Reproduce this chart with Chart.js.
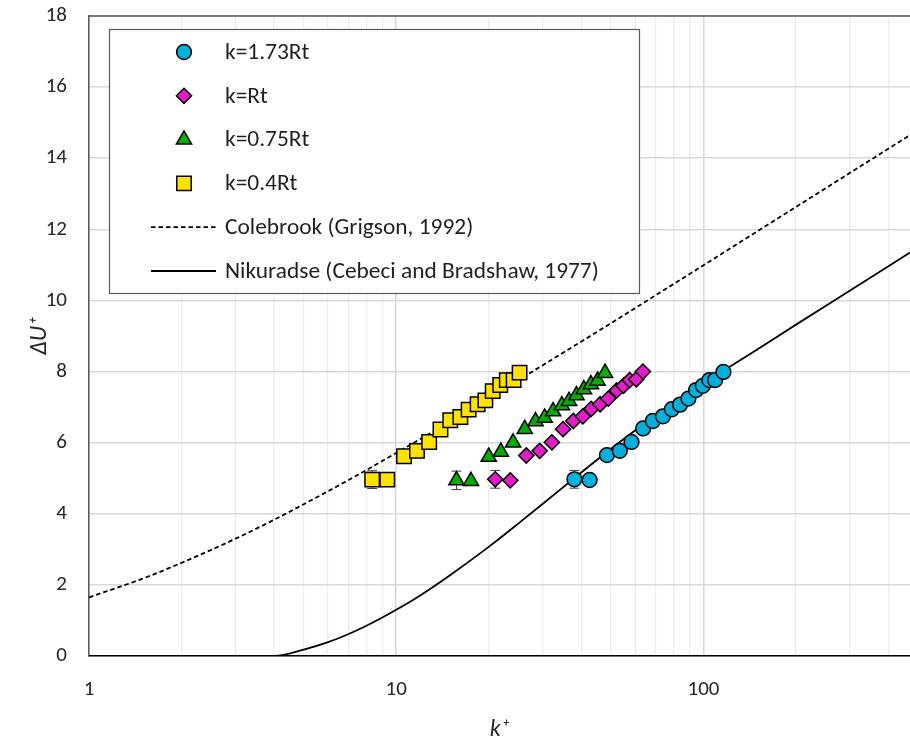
<!DOCTYPE html>
<html>
<head>
<meta charset="utf-8">
<script src="https://cdn.jsdelivr.net/npm/chart.js@4.4.1/dist/chart.umd.min.js"></script>
<style>
  html, body { margin: 0; padding: 0; background: #fff; overflow: hidden; }
</style>
</head>
<body>
<canvas id="chart" width="910" height="740"></canvas>
<script>
// === Data ===
const FONT = "Carlito, Lato, 'Open Sans', sans-serif";

// k = 1.73Rt
const k173x = [38.0, 42.6, 48.5, 53.4, 58.3, 63.6, 68.4, 73.8, 78.9, 83.9, 89.3, 94.6, 99.5, 104.5, 109.1, 116.1];
const k173y = [4.97, 4.95, 5.65, 5.77, 6.02, 6.40, 6.61, 6.74, 6.94, 7.07, 7.24, 7.48, 7.60, 7.76, 7.76, 7.99];
const k173err = [0.25];

// k = Rt
const k100x = [21.0, 23.5, 26.5, 29.3, 32.1, 34.9, 37.7, 40.5, 43.1, 46.1, 49.0, 52.2, 54.9, 57.5, 60.4, 63.5];
const k100y = [4.97, 4.94, 5.64, 5.77, 6.01, 6.38, 6.61, 6.74, 6.95, 7.08, 7.24, 7.47, 7.60, 7.76, 7.78, 8.00];
const k100err = [0.25];

// k = 0.75Rt
const k075x = [15.7, 17.5, 20.0, 21.9, 24.0, 26.2, 28.4, 30.4, 32.4, 34.6, 36.5, 38.6, 40.8, 43.0, 45.2, 47.8];
const k075y = [4.94, 4.92, 5.60, 5.74, 6.00, 6.38, 6.60, 6.70, 6.88, 7.05, 7.17, 7.33, 7.50, 7.64, 7.74, 7.96];
const k075err = [0.26];

// k = 0.4Rt
const k040x = [8.35, 9.35, 10.6, 11.68, 12.8, 13.93, 14.99, 16.17, 17.2, 18.4, 19.5, 20.6, 21.8, 22.9, 24.1, 25.2];
const k040y = [4.96, 4.96, 5.62, 5.77, 6.02, 6.37, 6.63, 6.72, 6.93, 7.08, 7.19, 7.45, 7.62, 7.76, 7.76, 7.97];
const k040err = [0.25];

// Colebrook (Grigson, 1992)
const colebrookK = [1, 1.5, 2, 3, 4, 5, 7, 10, 15, 20, 30, 50, 70, 100, 150, 200, 300, 470];
const colebrookDU = [1.65, 2.18, 2.62, 3.30, 3.83, 4.27, 4.95, 5.71, 6.60, 7.25, 8.18, 9.36, 10.15, 10.99, 11.95, 12.63, 13.59, 14.65];

// Nikuradse (Cebeci and Bradshaw, 1977)
const nikK = [1, 2, 3, 4, 5, 6, 7, 8, 10, 12, 15, 20, 25, 30, 40, 50, 60, 70, 90, 100, 150, 200, 300, 470];
const nikDU = [0, 0, 0, 0, 0.18, 0.39, 0.62, 0.85, 1.30, 1.71, 2.28, 3.07, 3.73, 4.28, 5.16, 5.83, 6.35, 6.78, 7.41, 7.67, 8.63, 9.32, 10.28, 11.35];

// axis ticks
const xLabelTicks = [1, 10, 100];
const xGridTicks = [1, 2, 3, 4, 5, 6, 7, 8, 9, 10, 20, 30, 40, 50, 60, 70, 80, 90, 100, 200, 300, 400];
const yTicks = [0, 2, 4, 6, 8, 10, 12, 14, 16, 18];

const pts = (xs, ys) => xs.map((x, i) => ({ x: x, y: ys[i] }));

// === Plugins ===
const errorBars = {
  id: 'errorBars',
  beforeDatasetsDraw(chart) {
    const { ctx, scales: { x, y } } = chart;
    ctx.save();
    ctx.strokeStyle = '#3a3a3a';
    ctx.lineWidth = 1;
    chart.data.datasets.forEach(ds => {
      if (!ds.errors) return;
      ds.data.forEach((p, i) => {
        const e = ds.errors[i];
        if (!e) return;
        const px = x.getPixelForValue(p.x);
        const top = y.getPixelForValue(p.y + e);
        const bot = y.getPixelForValue(p.y - e);
        ctx.beginPath();
        ctx.moveTo(px, top); ctx.lineTo(px, bot);
        ctx.moveTo(px - 5, top); ctx.lineTo(px + 5, top);
        ctx.moveTo(px - 5, bot); ctx.lineTo(px + 5, bot);
        ctx.stroke();
      });
    });
    ctx.restore();
  }
};

const frameAndLegend = {
  id: 'frameAndLegend',
  afterDraw(chart) {
    const { ctx, chartArea: a } = chart;
    ctx.save();
    // top frame line
    ctx.strokeStyle = '#595959';
    ctx.lineWidth = 1.5;
    ctx.beginPath();
    ctx.moveTo(a.left, a.top); ctx.lineTo(a.right, a.top);
    ctx.stroke();

    // legend box
    const box = { left: 109, top: 29, right: 639, bottom: 293 };
    ctx.fillStyle = '#fff';
    ctx.fillRect(box.left, box.top, box.right - box.left, box.bottom - box.top);
    ctx.lineWidth = 1.2;
    ctx.strokeRect(box.left + 0.5, box.top + 0.5, box.right - box.left, box.bottom - box.top);

    const markerX = 184, textX = 225, row0 = 52, rowGap = 43.8;
    ctx.font = '23.4px ' + FONT;
    ctx.textBaseline = 'middle';
    chart.data.datasets.forEach((ds, i) => {
      const yy = row0 + i * rowGap;
      if (ds.showLine) {
        ctx.strokeStyle = ds.borderColor;
        ctx.lineWidth = ds.borderWidth;
        ctx.setLineDash(ds.borderDash || []);
        ctx.beginPath();
        ctx.moveTo(151, yy); ctx.lineTo(216, yy);
        ctx.stroke();
        ctx.setLineDash([]);
      } else {
        ctx.fillStyle = ds.backgroundColor;
        ctx.strokeStyle = ds.borderColor;
        ctx.lineWidth = ds.borderWidth;
        Chart.helpers.drawPoint(ctx, {
          pointStyle: ds.pointStyle, radius: ds.pointRadius,
          borderWidth: ds.borderWidth, rotation: 0
        }, markerX, yy);
      }
      ctx.fillStyle = '#1f1f1f';
      ctx.fillText(ds.label, textX, yy + 1);
    });
    ctx.restore();
  }
};

// === Chart ===
const marker = (label, xs, ys, errs, style, radius, color) => ({
  label: label,
  data: pts(xs, ys),
  errors: errs,
  showLine: false,
  pointStyle: style,
  pointRadius: radius,
  pointHoverRadius: radius,
  backgroundColor: color,
  borderColor: '#000',
  borderWidth: 1.5,
  order: 1
});

new Chart(document.getElementById('chart'), {
  type: 'scatter',
  data: {
    datasets: [
      marker('k=1.73Rt', k173x, k173y, k173err, 'circle', 7.4, '#00B0DA'),
      marker('k=Rt', k100x, k100y, k100err, 'rectRot', 7.6, '#E41BC8'),
      marker('k=0.75Rt', k075x, k075y, k075err, 'triangle', 8.8, '#00B000'),
      marker('k=0.4Rt', k040x, k040y, k040err, 'rect', 10.2, '#FFE100'),
      {
        label: 'Colebrook (Grigson, 1992)',
        data: pts(colebrookK, colebrookDU),
        showLine: true,
        pointRadius: 0,
        borderColor: '#000',
        borderWidth: 1.8,
        borderDash: [4.5, 3],
        cubicInterpolationMode: 'monotone',
        order: 2
      },
      {
        label: 'Nikuradse (Cebeci and Bradshaw, 1977)',
        data: pts(nikK, nikDU),
        showLine: true,
        pointRadius: 0,
        borderColor: '#000',
        borderWidth: 1.8,
        cubicInterpolationMode: 'monotone',
        order: 2
      }
    ]
  },
  options: {
    responsive: false,
    animation: false,
    events: [],
    layout: { autoPadding: false, padding: { top: 16, left: 0, right: 0, bottom: 0 } },
    plugins: { legend: { display: false }, tooltip: { enabled: false } },
    scales: {
      x: {
        type: 'logarithmic',
        min: 1,
        max: 470,
        afterBuildTicks: s => { s.ticks = xGridTicks.map(v => ({ value: v })); },
        afterFit: s => { s.height = 84; s.paddingLeft = 0; s.paddingRight = 0; },
        grid: {
          color: c => xLabelTicks.includes(c.tick && c.tick.value) ? '#d9d9d9' : '#ececec',
          lineWidth: c => xLabelTicks.includes(c.tick && c.tick.value) ? 1.6 : 1.2,
          drawTicks: false
        },
        border: { color: '#000', width: 1.6 },
        ticks: {
          autoSkip: false,
          maxRotation: 0,
          padding: 21,
          color: '#262626',
          font: { family: FONT, size: 21 },
          callback: v => xLabelTicks.includes(v) ? String(v) : ''
        },
        title: {
          display: true,
          text: 'k\u207A',
          color: '#262626',
          font: { family: FONT, size: 24, style: 'italic' },
          padding: { top: 0, bottom: -4 }
        }
      },
      y: {
        min: 0,
        max: 18,
        afterBuildTicks: s => { s.ticks = yTicks.map(v => ({ value: v })); },
        afterFit: s => { s.width = 89; s.paddingTop = 0; s.paddingBottom = 0; },
        grid: { color: '#d9d9d9', lineWidth: 1.6, drawTicks: false },
        border: { color: '#595959', width: 1.5 },
        ticks: {
          padding: 22,
          color: '#262626',
          font: { family: FONT, size: 21 }
        },
        title: {
          display: true,
          text: '\u0394U\u207A',
          color: '#262626',
          font: { family: FONT, size: 24, style: 'italic' },
          padding: { top: 26, bottom: 0 }
        }
      }
    }
  },
  plugins: [errorBars, frameAndLegend]
});
</script>
</body>
</html>
